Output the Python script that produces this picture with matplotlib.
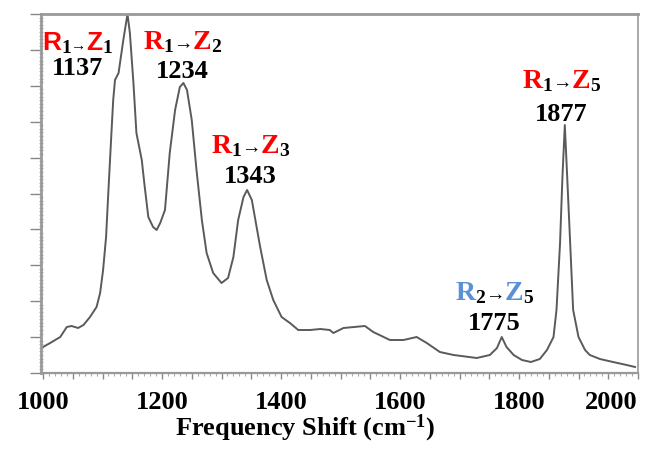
'''
Raman spectrum with transition labels
'''

import numpy as np
import matplotlib
matplotlib.use('Agg')
import matplotlib.pyplot as plt
from matplotlib.ticker import MultipleLocator, FuncFormatter

# spectrum (intensity in arbitrary units)
shift = [1000, 1012, 1029, 1040, 1048, 1059, 1068, 1079, 1090, 1096,
         1101, 1106, 1110, 1115, 1118, 1121, 1127, 1135, 1142, 1146,
         1152, 1157, 1166, 1171, 1177, 1185, 1191, 1197, 1205, 1213,
         1222, 1230, 1236, 1242, 1250, 1258, 1267, 1275, 1286, 1300,
         1311, 1320, 1328, 1337, 1343, 1351, 1359, 1365, 1376, 1387,
         1401, 1415, 1429, 1449, 1466, 1482, 1488, 1505, 1541, 1555,
         1583, 1606, 1628, 1645, 1667, 1690, 1729, 1751, 1763, 1771,
         1779, 1791, 1805, 1820, 1835, 1847, 1858, 1863, 1869, 1873,
         1877, 1881, 1886, 1891, 1900, 1911, 1919, 1936, 1958, 1981, 1995]
intensity = [26, 30, 36, 46, 47, 45, 48, 56, 66, 80,
             103, 136, 183, 240, 273, 293, 300, 333, 359, 340,
             290, 240, 213, 186, 156, 146, 143, 150, 163, 220,
             263, 286, 290, 283, 253, 203, 153, 120, 100, 90,
             95, 116, 153, 176, 183, 173, 146, 126, 93, 73,
             56, 50, 43, 43, 44, 43, 40, 45, 47, 41,
             33, 33, 36, 30, 21, 18, 15, 18, 25, 36,
             26, 18, 13, 11, 14, 23, 36, 63, 130, 196,
             248, 196, 130, 63, 36, 23, 18, 14, 11, 8, 6]

xtick_labels = [1000, 1200, 1400, 1600, 1800, 2000]

# transition labels: initial state, final state, peak value, colour
trans_from = ['1', '1', '1', '1', '2']
trans_to = ['1', '2', '3', '5', '5']
peak_vals = ['1137', '1234', '1343', '1877', '1775']
trans_color = ['#ff0000', '#ff0000', '#ff0000', '#ff0000', '#5b8fd6']

W, H = 646, 449
fig = plt.figure(figsize=(W/100, H/100), dpi=100)
plt.rcParams['mathtext.default'] = 'regular'
serif = ['Liberation Serif', 'DejaVu Serif']
sans = ['Liberation Sans', 'DejaVu Sans']

L, R, B, T = 41, 638, 373, 14
ax = fig.add_axes([L/W, 1-B/H, (R-L)/W, (B-T)/H])

ax.plot(shift, intensity, color='#5a5a5a', lw=1.4)
ax.set_xlim(1000 - 2/0.595, 2000)
ax.set_ylim(0, 359)

for s in ax.spines.values():
	s.set_color('#999999')
ax.spines['top'].set_linewidth(2)
ax.spines['left'].set_linewidth(2)
ax.spines['bottom'].set_linewidth(1.6)
ax.spines['right'].set_linewidth(1.2)

ax.xaxis.set_major_locator(MultipleLocator(50))
ax.xaxis.set_minor_locator(MultipleLocator(10))
ax.xaxis.set_major_formatter(FuncFormatter(
	lambda v, p: str(int(round(v))) if int(round(v)) in xtick_labels else ''))
ax.yaxis.set_major_locator(MultipleLocator(35.9))
ax.yaxis.set_minor_locator(MultipleLocator(3.59))
ax.yaxis.set_major_formatter(FuncFormatter(lambda v, p: ''))
ax.tick_params(axis='x', which='major', length=4, width=1, color='#888888',
			   pad=9, labelsize=19)
ax.tick_params(axis='x', which='minor', length=2, width=0.8, color='#aaaaaa')
ax.tick_params(axis='y', which='major', length=8, width=1, color='#888888')
ax.tick_params(axis='y', which='minor', length=3, width=0.8, color='#aaaaaa',
			   direction='inout')
for lab in ax.get_xticklabels():
	lab.set_fontfamily(serif)
	lab.set_fontweight('bold')
fig.canvas.draw()
for tk in ax.xaxis.get_major_ticks():
	if tk.label1.get_text() == '2000':
		tk.label1.set_horizontalalignment('right')

ax.set_xlabel('Frequency Shift (cm$^{-1}$)', fontsize=19, fontweight='bold',
			  family=serif)
ax.xaxis.set_label_coords((305-L)/(R-L), -(413-B)/(B-T))

renderer = fig.canvas.get_renderer()

def rich(xc, ybase, pieces):
	# pieces: (text, colour, size, family, drop in px)
	texts = []
	widths = []
	for txt, col, size, fam, dy in pieces:
		t = fig.text(0, 0, txt, color=col, fontsize=size, family=fam,
					 fontweight='bold', va='baseline', ha='left',
					 transform=None)
		texts.append((t, dy))
		widths.append(t.get_window_extent(renderer).width)
	x = xc - sum(widths)/2
	for (t, dy), w in zip(texts, widths):
		t.set_position((x, H - ybase - dy))
		x += w

# centre x, label baseline, number baseline (pixels from top)
label_pos = [(77, 50, 75), (182, 49, 78), (250, 153, 183),
			 (561, 88, 121), (494, 300, 330)]

for i in range(len(peak_vals)):
	xc, yb, yn = label_pos[i]
	fam = sans if i == 0 else serif
	big = 19 if i == 0 else 20
	arrow = 11 if i == 0 else 14
	rich(xc, yb, [('R', trans_color[i], big, fam, 0),
				  (trans_from[i], 'black', 14, serif, 3),
				  ('\u2192', 'black', arrow, serif, 0),
				  ('Z', trans_color[i], big, fam, 0),
				  (trans_to[i], 'black', 14, serif, 3)])
	rich(xc, yn, [(peak_vals[i], 'black', 19, serif, 0)])

fig.savefig('out.png', dpi=100)
